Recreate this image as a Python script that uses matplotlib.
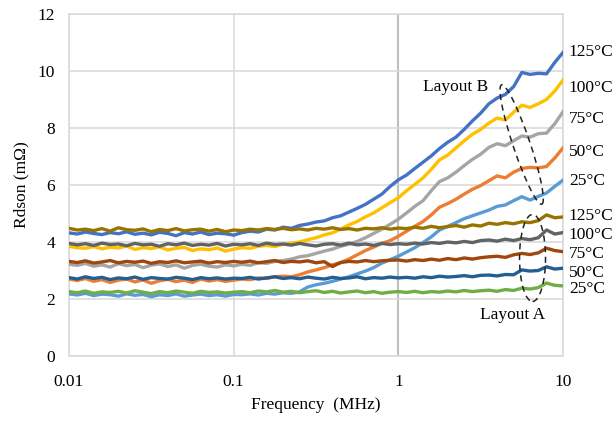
import numpy as np
import matplotlib
matplotlib.use("Agg")
import matplotlib.pyplot as plt
from matplotlib.patches import Ellipse
from matplotlib.transforms import Affine2D, ScaledTranslation

plt.rcParams['font.family'] = ['Liberation Serif', 'DejaVu Serif']

# frequency sweep (MHz), 20 points per decade
freq = np.logspace(-2, 1, 61)

# Layout B (rising)
b125 = [4.32,4.28,4.35,4.30,4.26,4.33,4.29,4.36,4.27,4.31,4.25,4.34,4.30,4.22,4.33,4.28,4.35,4.26,4.31,4.29,4.24,
        4.33,4.38,4.35,4.45,4.42,4.52,4.48,4.58,4.63,4.70,4.74,4.85,4.92,5.05,5.18,5.32,5.50,5.68,5.95,6.18,
        6.35,6.58,6.80,7.02,7.28,7.50,7.68,7.95,8.25,8.52,8.85,9.05,9.18,9.45,9.95,9.88,9.92,9.90,10.30,10.65]
b100 = [3.85,3.80,3.78,3.84,3.76,3.82,3.79,3.86,3.74,3.80,3.77,3.83,3.72,3.78,3.81,3.70,3.76,3.73,3.79,3.68,3.75,
        3.80,3.78,3.85,3.88,3.84,3.92,3.96,4.00,4.08,4.15,4.25,4.32,4.45,4.60,4.72,4.88,5.02,5.20,5.38,5.55,
        5.80,6.02,6.25,6.55,6.88,7.05,7.30,7.55,7.78,7.95,8.17,8.35,8.28,8.55,8.80,8.72,8.85,9.00,9.30,9.68]
b75 = [3.22,3.18,3.25,3.15,3.20,3.12,3.24,3.17,3.21,3.10,3.19,3.23,3.14,3.20,3.08,3.18,3.22,3.15,3.12,3.20,3.16,
       3.22,3.18,3.28,3.25,3.32,3.35,3.40,3.48,3.52,3.60,3.68,3.75,3.85,3.92,4.02,4.15,4.30,4.45,4.62,4.80,
       5.02,5.25,5.45,5.80,6.12,6.25,6.45,6.68,6.90,7.08,7.32,7.45,7.38,7.55,7.72,7.68,7.80,7.82,8.15,8.57]
b50 = [2.70,2.65,2.72,2.62,2.68,2.58,2.66,2.70,2.60,2.67,2.55,2.64,2.69,2.61,2.66,2.58,2.70,2.63,2.68,2.62,2.66,
       2.70,2.68,2.74,2.72,2.78,2.80,2.78,2.85,2.95,3.02,3.10,3.20,3.28,3.40,3.55,3.70,3.82,3.95,4.05,4.20,
       4.38,4.55,4.72,4.95,5.22,5.35,5.50,5.68,5.85,5.98,6.15,6.32,6.25,6.45,6.58,6.62,6.60,6.65,6.95,7.30]
b25 = [2.18,2.14,2.20,2.12,2.17,2.15,2.10,2.18,2.13,2.16,2.08,2.15,2.12,2.18,2.10,2.14,2.17,2.12,2.15,2.10,2.16,
       2.15,2.18,2.14,2.20,2.17,2.22,2.20,2.25,2.42,2.50,2.55,2.62,2.70,2.78,2.88,2.98,3.10,3.26,3.38,3.50,
       3.65,3.80,3.98,4.18,4.42,4.55,4.68,4.82,4.92,5.02,5.12,5.25,5.30,5.45,5.59,5.47,5.60,5.72,5.95,6.17]

# Layout A (flat)
a125 = [4.48,4.42,4.45,4.40,4.47,4.38,4.50,4.43,4.41,4.46,4.36,4.44,4.40,4.47,4.39,4.43,4.45,4.38,4.44,4.36,4.42,
        4.40,4.45,4.42,4.47,4.44,4.48,4.43,4.46,4.42,4.48,4.45,4.50,4.44,4.47,4.42,4.48,4.46,4.50,4.45,4.49,
        4.47,4.52,4.48,4.55,4.50,4.54,4.58,4.52,4.60,4.56,4.66,4.62,4.68,4.64,4.71,4.68,4.75,4.95,4.85,4.88]
a100 = [3.95,3.90,3.94,3.88,3.96,3.91,3.93,3.87,3.95,3.90,3.92,3.85,3.94,3.90,3.96,3.88,3.92,3.89,3.95,3.86,3.92,
        3.90,3.94,3.88,3.96,3.91,3.93,3.89,3.95,3.90,3.86,3.92,3.94,3.89,3.96,3.90,3.93,3.88,3.95,3.91,3.94,
        3.92,3.96,3.93,3.98,3.95,4.00,3.97,4.02,3.98,4.05,4.07,4.03,4.10,4.05,4.12,4.08,4.15,4.42,4.28,4.33]
a75 = [3.32,3.28,3.34,3.26,3.30,3.35,3.27,3.32,3.29,3.33,3.25,3.31,3.28,3.34,3.27,3.30,3.33,3.26,3.31,3.28,3.32,
       3.29,3.33,3.27,3.31,3.35,3.28,3.32,3.30,3.34,3.27,3.31,3.14,3.28,3.32,3.30,3.35,3.31,3.34,3.36,3.37,
       3.33,3.38,3.35,3.40,3.36,3.42,3.38,3.44,3.40,3.45,3.48,3.50,3.46,3.55,3.60,3.56,3.62,3.78,3.70,3.66]
a50 = [2.75,2.70,2.78,2.72,2.76,2.68,2.74,2.71,2.77,2.69,2.75,2.72,2.70,2.76,2.73,2.68,2.75,2.71,2.74,2.70,2.73,
       2.72,2.76,2.70,2.74,2.78,2.72,2.75,2.71,2.77,2.73,2.70,2.76,2.72,2.74,2.78,2.71,2.75,2.73,2.77,2.74,
       2.76,2.73,2.78,2.75,2.80,2.77,2.79,2.82,2.78,2.83,2.84,2.81,2.86,2.85,3.02,2.98,3.00,3.13,3.05,3.08]
a25 = [2.26,2.22,2.28,2.20,2.25,2.23,2.27,2.21,2.29,2.24,2.19,2.26,2.22,2.28,2.24,2.20,2.27,2.23,2.25,2.21,2.24,
       2.26,2.22,2.28,2.25,2.30,2.24,2.27,2.22,2.26,2.29,2.23,2.27,2.21,2.25,2.28,2.22,2.26,2.20,2.24,2.26,
       2.23,2.27,2.22,2.26,2.24,2.28,2.25,2.30,2.26,2.29,2.31,2.27,2.33,2.30,2.38,2.35,2.40,2.56,2.48,2.46]

temps = ['125°C', '100°C', '75°C', '50°C', '25°C']
layout_b = [b125, b100, b75, b50, b25]
layout_a = [a125, a100, a75, a50, a25]
colors_b = ['#4472C4', '#FFC000', '#A5A5A5', '#ED7D31', '#5B9BD5']
colors_a = ['#997300', '#636363', '#9E480E', '#255E91', '#70AD47']
label_y_b = [10.67, 9.40, 8.32, 7.16, 6.14]
label_y_a = [4.91, 4.25, 3.58, 2.91, 2.35]

fig = plt.figure(figsize=(6.15, 4.28), dpi=100)
ax = fig.add_axes([69/615, 72/428, 494/615, 342/428])

for ys, c in zip(layout_b, colors_b):
    ax.plot(freq, ys, color=c, lw=2.4, solid_joinstyle='round', zorder=3)
for ys, c in zip(layout_a, colors_a):
    ax.plot(freq, ys, color=c, lw=2.4, solid_joinstyle='round', zorder=4)

ax.set_xscale('log')
ax.set_xlim(0.01, 10)
ax.set_ylim(0, 12)
ax.set_yticks(range(0, 13, 2))
ax.set_xticks([0.01, 0.1, 1, 10])
ax.set_xticklabels(['0.01', '0.1', '1', '10'])
ax.minorticks_off()
ax.tick_params(length=0, labelsize=12.5, colors='#000000')
ax.tick_params(axis='y', pad=10)
ax.tick_params(axis='x', pad=13)

ax.grid(True, color='#D9D9D9', lw=1.1, zorder=0)
ax.xaxis.get_gridlines()[2].set_color('#BFBFBF')
ax.xaxis.get_gridlines()[2].set_linewidth(1.5)
ax.set_axisbelow(True)
for s in ax.spines.values():
    s.set_color('#D9D9D9')
    s.set_linewidth(1.1)

ax.set_xlabel('Frequency  (MHz)', fontsize=12.5, labelpad=5)
ax.set_ylabel('Rdson (mΩ)', fontsize=12.5, labelpad=6)

for t, y in zip(temps, label_y_b):
    ax.annotate(t, xy=(1.012, y), xycoords=('axes fraction', 'data'),
                va='center', ha='left', fontsize=12.5, annotation_clip=False)
for t, y in zip(temps, label_y_a):
    ax.annotate(t, xy=(1.012, y), xycoords=('axes fraction', 'data'),
                va='center', ha='left', fontsize=12.5, annotation_clip=False)

ax.text(3.5, 9.44, 'Layout B', ha='right', va='center', fontsize=12.5)
ax.text(4.97, 1.44, 'Layout A', ha='center', va='center', fontsize=12.5)

# dashed ellipses, shaped in pixels, positioned in data coordinates
def px_ellipse(xc, yc, w, h, ang):
    tr = Affine2D().rotate_deg(ang) + ScaledTranslation(xc, yc, ax.transData)
    e = Ellipse((0, 0), w, h, angle=0, transform=tr, fill=False,
                edgecolor='#222222', lw=1.1, linestyle=(0, (4, 3)), zorder=6)
    fig.add_artist(e)

px_ellipse(5.61, 7.42, 17, 126, 18.6)
px_ellipse(6.53, 3.44, 26, 87, 0)

fig.savefig('out.png', dpi=100, facecolor='white')
